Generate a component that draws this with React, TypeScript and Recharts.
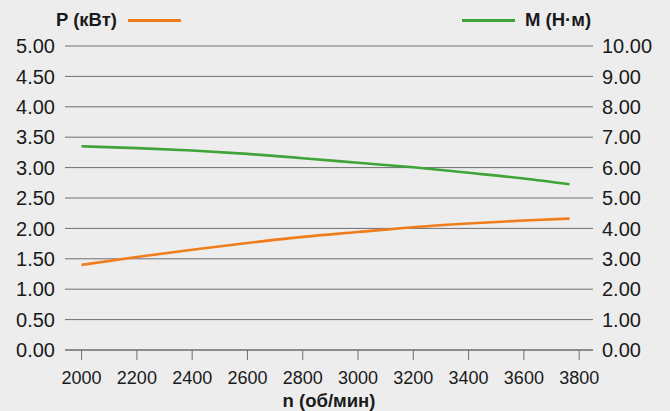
import React from 'react';
import {
  LineChart,
  Line,
  XAxis,
  YAxis,
  CartesianGrid,
  Label,
} from 'recharts';

const speeds = [2000, 2200, 2400, 2600, 2800, 3000, 3200, 3400, 3600, 3765];
const powerKw = [1.4, 1.53, 1.65, 1.76, 1.86, 1.94, 2.02, 2.08, 2.13, 2.16];
const torqueNm = [6.7, 6.64, 6.56, 6.45, 6.31, 6.16, 6.01, 5.83, 5.64, 5.45];

const xTicks = [2000, 2200, 2400, 2600, 2800, 3000, 3200, 3400, 3600, 3800];
const leftTicks = [0, 0.5, 1, 1.5, 2, 2.5, 3, 3.5, 4, 4.5, 5];
const rightTicks = [0, 1, 2, 3, 4, 5, 6, 7, 8, 9, 10];

const ORANGE = '#f07d1b';
const GREEN = '#3fa33a';
const FONT = '"Liberation Sans", Arial, Helvetica, sans-serif';

const data = speeds.map((n, i) => ({ n, p: powerKw[i], m: torqueNm[i] }));

export default function App() {
  return (
    <div
      style={{
        position: 'absolute',
        left: 0,
        top: 0,
        width: 670,
        height: 411,
        background: '#ededed',
        fontFamily: FONT,
      }}
    >
      {/* legend, drawn over the chart */}
      <div style={{ position: 'absolute', left: 56, top: 9, fontSize: 18.5, lineHeight: '22px', fontWeight: 'bold', color: '#1a1a1a' }}>
        P (кВт)
      </div>
      <div style={{ position: 'absolute', left: 128, top: 19, width: 53, height: 3, background: ORANGE }} />
      <div style={{ position: 'absolute', left: 462, top: 19, width: 53, height: 3, background: GREEN }} />
      <div style={{ position: 'absolute', left: 525, top: 9, fontSize: 18.5, lineHeight: '22px', fontWeight: 'bold', color: '#1a1a1a' }}>
        M (Н·м)
      </div>

      <LineChart width={670} height={411} data={data} margin={{ top: 46, right: 0, bottom: 0, left: 0 }}>
        <CartesianGrid yAxisId="left" vertical={false} stroke="#6e6e6e" strokeWidth={1} />
        <XAxis
          dataKey="n"
          type="number"
          domain={[1940, 3850]}
          ticks={xTicks}
          interval={0}
          height={61}
          axisLine={{ stroke: '#6e6e6e' }}
          tickLine={{ stroke: '#6e6e6e' }}
          tickSize={10}
          tickMargin={11}
          tick={{ fill: '#1a1a1a', fontSize: 18, fontFamily: FONT }}
        >
          <Label
            value="n (об/мин)"
            position="insideBottom"
            offset={4}
            style={{ fill: '#1a1a1a', fontSize: 18.5, fontWeight: 'bold', fontFamily: FONT }}
          />
        </XAxis>
        <YAxis
          yAxisId="left"
          domain={[0, 5]}
          ticks={leftTicks}
          interval={0}
          width={65}
          axisLine={false}
          tickLine={false}
          tickSize={6}
          tickMargin={4}
          tickFormatter={(v: number) => v.toFixed(2)}
          tick={{ fill: '#1a1a1a', fontSize: 20, fontFamily: FONT }}
        />
        <YAxis
          yAxisId="right"
          orientation="right"
          domain={[0, 10]}
          ticks={rightTicks}
          interval={0}
          width={77}
          axisLine={false}
          tickLine={false}
          tickSize={6}
          tickMargin={3}
          tickFormatter={(v: number) => v.toFixed(2)}
          tick={{ fill: '#1a1a1a', fontSize: 20, fontFamily: FONT }}
        />
        <Line
          yAxisId="left"
          dataKey="p"
          type="monotone"
          stroke={ORANGE}
          strokeWidth={2.6}
          dot={false}
          isAnimationActive={false}
        />
        <Line
          yAxisId="right"
          dataKey="m"
          type="monotone"
          stroke={GREEN}
          strokeWidth={2.6}
          dot={false}
          isAnimationActive={false}
        />
      </LineChart>
    </div>
  );
}
